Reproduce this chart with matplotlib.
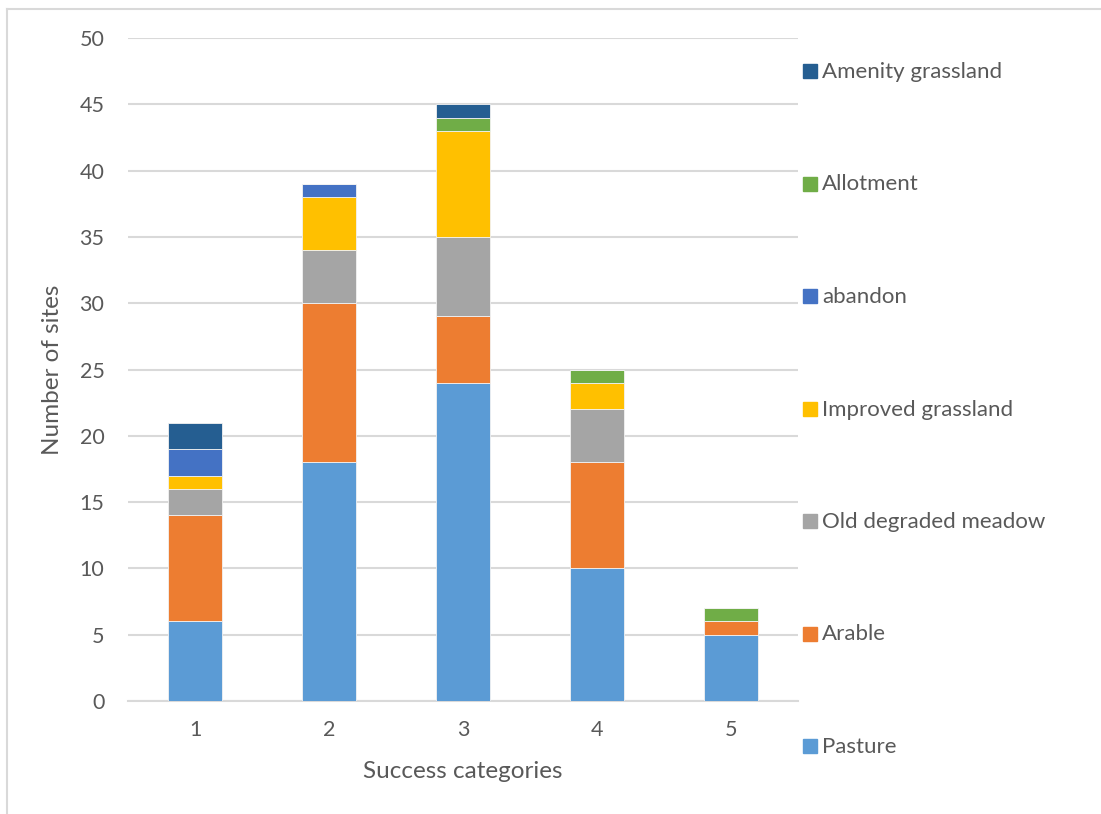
import matplotlib
matplotlib.use("Agg")
import matplotlib.pyplot as plt
from matplotlib.patches import Rectangle
from matplotlib.lines import Line2D
import numpy as np

# Number of sites per success category, split by former land use
categories = ["1", "2", "3", "4", "5"]
pasture = [6, 18, 24, 10, 5]
arable = [8, 12, 5, 8, 1]
old_meadow = [2, 4, 6, 4, 0]
improved = [1, 4, 8, 2, 0]
abandon = [2, 1, 0, 0, 0]
allotment = [0, 0, 1, 1, 1]
amenity = [2, 0, 1, 0, 0]

series_names = ["Pasture", "Arable", "Old degraded meadow", "Improved grassland",
                "abandon", "Allotment", "Amenity grassland"]
series_values = [pasture, arable, old_meadow, improved, abandon, allotment, amenity]
colors = ["#5B9BD5", "#ED7D31", "#A5A5A5", "#FFC000", "#4472C4", "#70AD47", "#255E91"]

plt.rcParams["font.family"] = ["Lato", "DejaVu Sans"]
text_col = "#595959"
grid_col = "#D9D9D9"

fig = plt.figure(figsize=(11.01, 8.14), dpi=100)
ax = fig.add_axes([0.1163, 0.1388, 0.6085, 0.8145])

x = np.arange(1, len(categories) + 1)
bottom = np.zeros(len(categories))
for name, vals, col in zip(series_names, series_values, colors):
    vals = np.array(vals, dtype=float)
    ax.bar(x, vals, width=0.4, bottom=bottom, color=col, edgecolor="#F2F2F2",
           linewidth=0.6, label=name, zorder=3)
    bottom += vals

ax.set_xlim(0.5, 5.5)
ax.set_ylim(0, 50)
ax.set_yticks(range(0, 51, 5))
ax.set_xticks(x)
ax.set_xticklabels(categories)
ax.yaxis.grid(True, color=grid_col, linewidth=1.5, zorder=0)
ax.set_axisbelow(True)
for s in ["top", "right", "left"]:
    ax.spines[s].set_visible(False)
ax.spines["bottom"].set_color(grid_col)
ax.spines["bottom"].set_linewidth(1.5)
ax.tick_params(axis="both", length=0, labelsize=15.5, labelcolor=text_col)
ax.tick_params(axis="y", pad=17)
ax.tick_params(axis="x", pad=14)
ax.set_xlabel("Success categories", fontsize=17.5, color=text_col, labelpad=15)
ax.set_ylabel("Number of sites", fontsize=17.5, color=text_col, labelpad=12)

# legend spread down the right side, top entry is the last stacked series
W, H = 1101, 814
top_y, step = 71, 112.5
for i, (name, col) in enumerate(zip(series_names[::-1], colors[::-1])):
    yc = top_y + i * step
    fig.patches.append(Rectangle((803 / W, 1 - (yc + 7) / H), 14 / W, 14 / H,
                                 transform=fig.transFigure, color=col))
    fig.text(822 / W, 1 - (yc + 1) / H, name, fontsize=16, color=text_col,
             va="center", ha="left")

# outer frame edges
fig.add_artist(Line2D([7 / W, 7 / W], [0, 1 - 9 / H], transform=fig.transFigure,
                      color="#D9D9D9", linewidth=1.5))
fig.add_artist(Line2D([7 / W, 1], [1 - 9 / H, 1 - 9 / H], transform=fig.transFigure,
                      color="#D9D9D9", linewidth=1.5))

fig.savefig("out.png", dpi=100)
